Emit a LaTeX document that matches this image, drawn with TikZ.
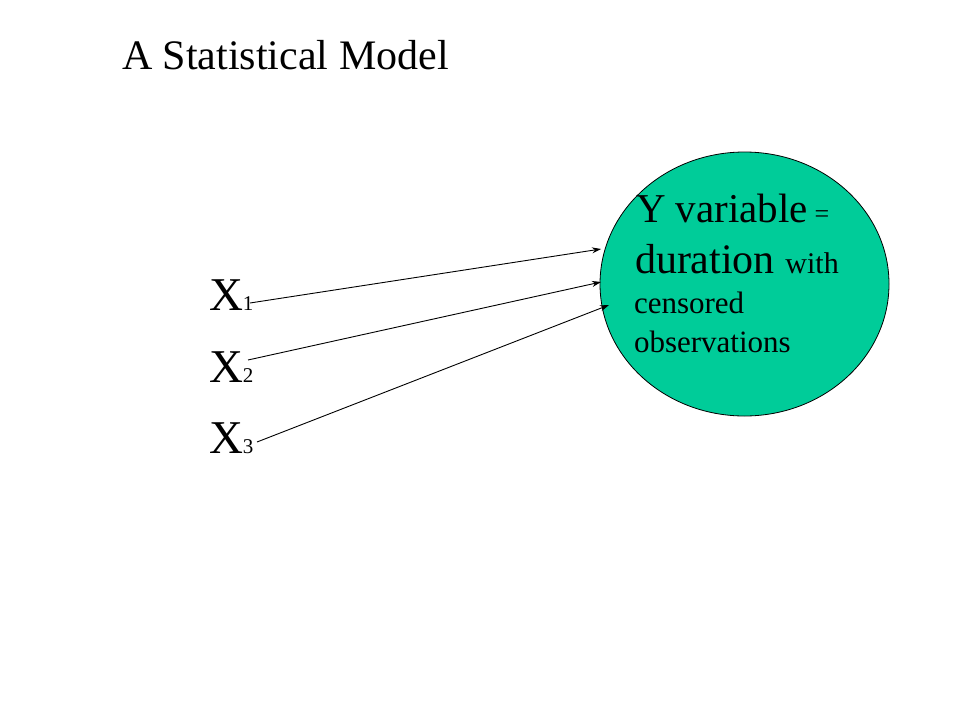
\documentclass[tikz,border=0pt]{standalone}
\usepackage{fontspec}
\setmainfont{Liberation Serif}
\usetikzlibrary{shapes.geometric,arrows.meta}
\definecolor{teal}{HTML}{00CC99}
\tikzset{
  txt/.style={anchor=base west, inner sep=0pt, outer sep=0pt},
  link/.style={draw=black, line width=0.9pt, -{Stealth[length=9pt,width=6pt]}},
}
\begin{document}
\begin{tikzpicture}[x=1pt,y=-1pt]
\useasboundingbox (0,0) rectangle (960,720);
\node[txt] (title) at (122,69) {\fontsize{42}{42}\selectfont A Statistical Model};
\node[ellipse, draw=black, line width=0.8pt, fill=teal, inner sep=0pt, minimum width=289pt, minimum height=264pt] (Y) at (744.5,284) {};
\node[txt] (l1) at (636,222) {\fontsize{41}{41}\selectfont Y variable\,{\fontsize{26}{26}\selectfont =}};
\node[txt] (l2) at (635,273) {\fontsize{42}{42}\selectfont duration {\fontsize{30}{30}\selectfont with}};
\node[txt] (l3) at (634,313) {\fontsize{31}{31}\selectfont censored};
\node[txt] (l4) at (634,352) {\fontsize{31}{31}\selectfont observations};
\node[txt] (x1) at (209,310) {\fontsize{47}{47}\selectfont X{\fontsize{21}{21}\selectfont 1}};
\node[txt] (x2) at (209,382) {\fontsize{47}{47}\selectfont X{\fontsize{21}{21}\selectfont 2}};
\node[txt] (x3) at (209,453) {\fontsize{47}{47}\selectfont X{\fontsize{21}{21}\selectfont 3}};
\coordinate (s1) at (250,303);
\coordinate (s2) at (248,360);
\coordinate (s3) at (257,442);
\coordinate (e1) at (601,249);
\coordinate (e2) at (601,282);
\coordinate (e3) at (609,305);
\draw[link] (s1) -- (e1);
\draw[link] (s2) -- (e2);
\draw[link] (s3) -- (e3);
\end{tikzpicture}
\end{document}
